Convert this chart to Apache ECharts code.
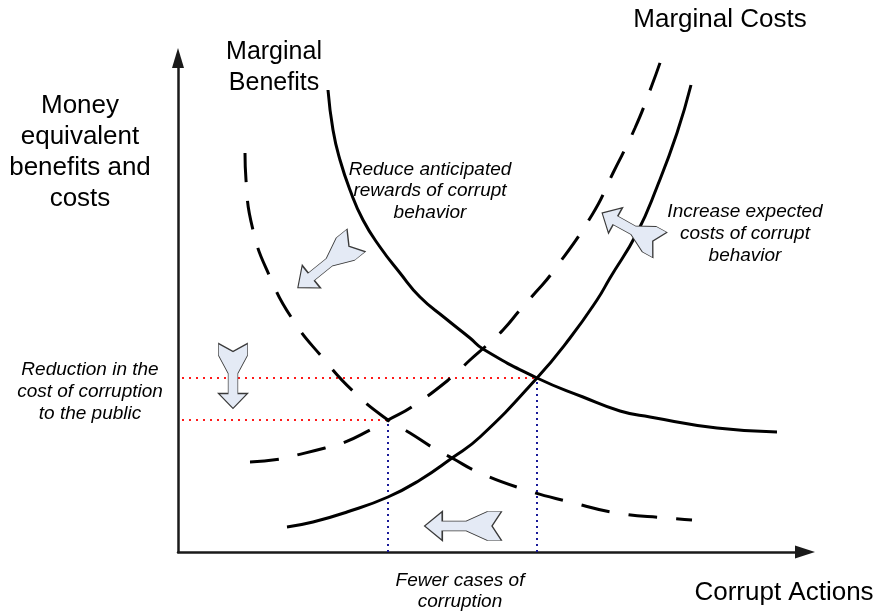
<!DOCTYPE html>
<html lang="en">
<head>
  <meta charset="UTF-8">
  <title>Marginal benefits and costs of corruption</title>
  <script src="https://cdn.jsdelivr.net/npm/echarts@6.0.0/dist/echarts.min.js"></script>
  <style>
    html, body { margin: 0; padding: 0; background: #fff; }
    #chart { width: 877px; height: 613px; }
  </style>
</head>
<body>
  <div id="chart"></div>
  <script>
    // points: [corrupt actions, money equivalent]
    var benefitsBefore = [[150, 462], [155, 422], [162, 392], [172, 362], [185, 332], [202, 305],
      [222, 279], [242, 255], [267, 234], [292, 214], [305, 203], [359, 174], [405, 155],
      [442, 141], [472, 135], [539, 124], [599, 120]];
    var benefitsAfter = [[67, 399], [68, 372], [75, 322], [92, 275], [115, 232], [144, 195],
      [177, 159], [210, 132], [232, 119], [257, 103], [274, 94], [300, 80], [345, 63],
      [392, 50], [439, 39], [489, 34], [514, 32]];
    var costsBefore = [[109, 25], [135, 30], [169, 40], [210, 55], [242, 72], [274, 94],
      [302, 115], [359, 174], [392, 214], [419, 252], [432, 274], [459, 319], [479, 365],
      [499, 419], [513, 467]];
    var costsAfter = [[72, 90], [102, 93], [119, 97], [147, 104], [165, 109], [192, 122],
      [210, 132], [235, 146], [274, 175], [292, 192], [309, 207], [325, 222], [342, 242],
      [357, 259], [374, 279], [414, 337], [435, 379], [457, 424], [474, 467], [484, 495]];

    // where the curves cross, before and after
    var equilibriumBefore = [359, 174];
    var equilibriumAfter = [210, 132];

    // block arrows: centre, direction (deg), length
    var shiftArrows = [
      { at: [149, 288], angle: 219, len: 75 },
      { at: [453, 323], angle: 151, len: 66 },
      { at: [55, 176], angle: -90, len: 65 },
      { at: [285, 26], angle: 180, len: 77 }
    ];

    var font = '"Liberation Sans", Arial, sans-serif';
    var arrowPath = 'path://M0 0 L12 0 L30 10 L50 10 L50 0 L65 15 L50 30 L50 20 L30 20 L12 30 L0 30 L8 15 Z';

    function label(text, x, y, size, italic, lh) {
      return {
        type: 'text', x: x, y: y, silent: true,
        style: {
          text: text, fill: '#000', fontSize: size, fontFamily: font,
          fontStyle: italic ? 'italic' : 'normal',
          align: 'center', verticalAlign: 'middle', lineHeight: lh || size + 6
        }
      };
    }

    function curve(data, dashed) {
      return {
        type: 'line', data: data, symbol: 'none', smooth: 0.5, clip: false,
        lineStyle: { color: '#000', width: 3, type: dashed ? [29, 19] : 'solid' },
        z: 3
      };
    }

    function guide(data, color, gap) {
      return {
        type: 'line', data: data, symbol: 'none', clip: false,
        lineStyle: { color: color, width: 2, type: [2, gap] },
        z: 2
      };
    }

    var chart = echarts.init(document.getElementById('chart'));
    chart.setOption({
      animation: false,
      backgroundColor: '#fff',
      grid: { left: 178, top: 58, right: 72, bottom: 61 },
      xAxis: {
        type: 'value', min: 0, max: 627,
        axisLine: { onZero: false, symbol: ['none', 'triangle'], symbolSize: [13, 20], lineStyle: { color: '#1a1a1a', width: 2.5 } },
        axisTick: { show: false }, axisLabel: { show: false }, splitLine: { show: false }
      },
      yAxis: {
        type: 'value', min: 0, max: 494,
        axisLine: { show: true, onZero: false, symbol: ['none', 'triangle'], symbolSize: [12, 20], lineStyle: { color: '#1a1a1a', width: 2.5 } },
        axisTick: { show: false }, axisLabel: { show: false }, splitLine: { show: false }
      },
      series: [
        guide([[4, equilibriumBefore[1]], equilibriumBefore], '#ff1a1a', 5),
        guide([[4, equilibriumAfter[1]], equilibriumAfter], '#ff1a1a', 5),
        guide([[equilibriumAfter[0], 0], equilibriumAfter], '#1a1a99', 4),
        guide([[equilibriumBefore[0], 0], equilibriumBefore], '#1a1a99', 4),
        curve(benefitsBefore, false),
        curve(benefitsAfter, true),
        curve(costsBefore, false),
        curve(costsAfter, true),
        {
          type: 'scatter', z: 5,
          data: shiftArrows.map(function (a) {
            return { value: a.at, symbolRotate: a.angle, symbolSize: [a.len, 29] };
          }),
          symbol: arrowPath,
          itemStyle: { color: '#e4eaf5', borderColor: '#3a3a3a', borderWidth: 1, opacity: 1 }
        }
      ],
      graphic: [
        label('Money\nequivalent\nbenefits and\ncosts', 80, 152, 26, false, 31),
        label('Marginal\nBenefits', 274, 68, 25, false, 31),
        label('Marginal Costs', 720, 20, 26),
        label('Corrupt Actions', 784, 593, 26),
        label('Reduce anticipated\nrewards of corrupt\nbehavior', 430, 191, 19, true, 21.5),
        label('Increase expected\ncosts of corrupt\nbehavior', 745, 234, 19, true, 22),
        label('Reduction in the\ncost of corruption\nto the public', 90, 392, 19, true, 22),
        label('Fewer cases of\ncorruption', 460, 591, 19, true, 21)
      ]
    });
  </script>
</body>
</html>
